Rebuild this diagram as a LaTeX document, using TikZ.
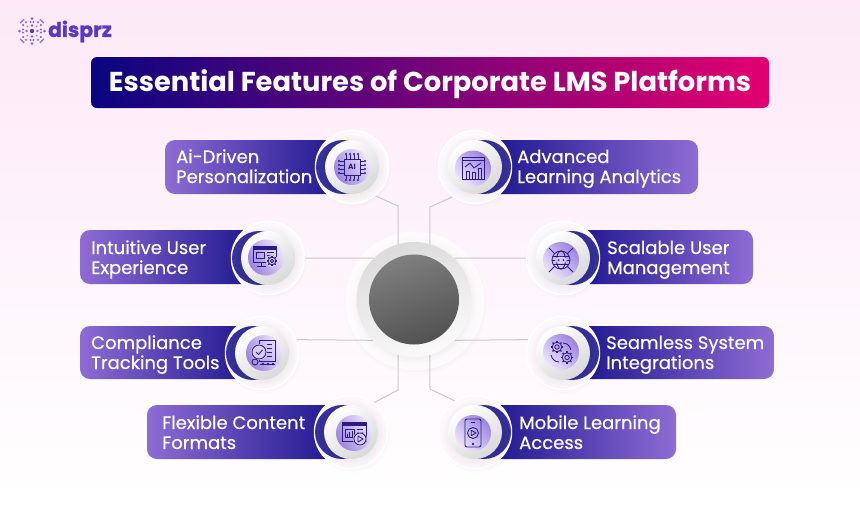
\documentclass[tikz,border=0pt]{standalone}
\usepackage{fontspec}
\setmainfont{Poppins}[FakeBold=0.35,BoldFont=Poppins Bold,BoldFeatures={FakeBold=0}]
\newfontfamily\logofont{Poppins Bold}[FakeBold=1.2]
\usetikzlibrary{calc}
\pgfdeclarelayer{bg}
\pgfdeclarelayer{lines}
\pgfsetlayers{bg,lines,main}
\definecolor{bgtop}{HTML}{FDE9F7}
\definecolor{bgmid}{HTML}{FEF8FD}
\definecolor{bgbot}{HTML}{FFFFFF}
\definecolor{navy}{HTML}{0A0580}
\definecolor{magenta}{HTML}{E4006F}
\definecolor{midtitle}{HTML}{640074}
\definecolor{pilldark}{HTML}{15108A}
\definecolor{pilllight}{HTML}{8E6CD4}
\definecolor{cres}{HTML}{37329C}
\definecolor{iconc}{HTML}{2A1C82}
\definecolor{lineg}{HTML}{CBC7CB}
\definecolor{logoc}{HTML}{5B36C9}
\definecolor{purpdark}{HTML}{9C82E0}
\definecolor{purplight}{HTML}{EDE7FB}
\definecolor{ringfill}{HTML}{FCF8FC}
\definecolor{iconbg}{HTML}{D8CCF4}
\tikzset{
  x=1pt,y=-1pt,
  lbl/.style={inner sep=0pt,anchor=west,align=left,text=white,font=\fontsize{18}{20}\selectfont},
  conn/.style={draw=lineg,line width=1pt},
  ringnode/.style={circle,inner sep=0pt,minimum size=73pt,fill=ringfill,draw=white,line width=1.5pt},
  maindisk/.style={circle,inner sep=0pt,minimum size=54pt,left color=white,right color=black!15,shading angle=35},
  ic/.style={draw=iconc,line width=0.85pt,line join=round},
}
\newcommand{\softshadow}[3]{%
  \foreach \rr in {#3,#3+1.5,#3+3,#3+4.5,#3+6,#3+7.5,#3+9}{
    \fill[black,opacity=.008] (#1,#2) circle ({\rr*1pt});
  }}
% name, cx, cy, dir, px, py, shading angle of the purple disc
\newcommand{\badge}[7]{%
  \softshadow{#2+2}{#3+4}{28}
  \node[ringnode] (#1) at (#2,#3) {};
  \fill[cres] ({#2+9*(#4)},#3) circle (27pt);
  \softshadow{#2+1}{#3+2}{25}
  \node[maindisk] (#1m) at (#2,#3) {};
  \node[circle,inner sep=0pt,minimum size=36pt,left color=purpdark,right color=purplight,shading angle=#7] (#1p) at (#5,#6) {};
}
\newcommand{\gearic}[3]{%
  \foreach \a in {0,45,...,315}{\draw[iconc,line width=1.3pt] ($(#1,#2)+(\a:#3*1pt)$) -- ($(#1,#2)+(\a:#3*1pt+1.4pt)$);}
  \draw[ic] (#1,#2) circle (#3*1pt);
  \draw[ic] (#1,#2) circle (#3*.45pt);
}
\begin{document}
\begin{tikzpicture}
\useasboundingbox (0,0) rectangle (860,504);
\begin{pgfonlayer}{bg}
\shade[top color=bgtop,middle color=bgmid,bottom color=bgbot] (0,0) rectangle (860,504);
\end{pgfonlayer}
% logo
\begin{scope}[shift={(32,31)}]
  \fill[logoc] (0,0) circle (2.2pt);
  \foreach \a in {0,90,180,270}{
    \fill[logoc!75!white,rotate=\a] (5.5,0) circle (1.3pt) (9,-1.5) circle (1.1pt) (9,1.5) circle (1.1pt) (12.5,0) circle (1.5pt);
  }
  \foreach \a in {45,135,225,315}{
    \fill[logoc!70!white,rotate=\a] (6.5,0) circle (1pt) (10.5,2) circle (1.2pt) (10.5,-2) circle (1.2pt) (14,2) circle (1.2pt) (14,-2) circle (1.2pt) (14,0) circle (1.1pt);
  }
\end{scope}
\node[inner sep=0pt,anchor=west,text=logoc,font=\fontsize{20.3}{24}\logofont] (logo) at (48,31.5) {disprz};
% title
\shade[left color=navy,middle color=midtitle,right color=magenta,rounded corners=6pt] (91,57) rectangle (769,108);
\node[inner sep=0pt,text=white,font=\fontsize{27.3}{28}\selectfont\bfseries] (title) at (430,84) {Essential Features of Corporate LMS Platforms};
% pills
\foreach \xa/\xb/\ya/\yb in {165/352/140/194,80/268/230/284,80/264/326/379,147/352/405/459}{
  \shade[left color=pilllight,right color=pilldark,rounded corners=10pt] (\xa,\ya) rectangle (\xb,\yb);
}
\foreach \xa/\xb/\ya/\yb in {475/698/140/194,563/753/230/284,563/774/326/379,475/676/405/459}{
  \shade[left color=pilldark,right color=pilllight,rounded corners=10pt] (\xa,\ya) rectangle (\xb,\yb);
}
% hub
\begin{pgfonlayer}{lines}
\softshadow{416}{304}{62}
\node[circle,inner sep=0pt,minimum size=139pt,fill=white,fill opacity=.75] (hubglow) at (415,301) {};
\end{pgfonlayer}
\softshadow{415}{302}{52}
\node[circle,inner sep=0pt,minimum size=115pt,left color=black!14,right color=black!2,shading angle=20] (hub) at (414,299.5) {};
\node[circle,inner sep=0pt,minimum size=90pt,left color=black!50,right color=black!68,shading angle=20] (hubcore) at (414,299.5) {};
% badges
\badge{bA}{352}{167}{-1}{352}{167}{120}
\badge{bB}{475}{167}{1}{473}{168.5}{-45}
\badge{bC}{268}{258}{-1}{266}{257.5}{120}
\badge{bD}{563}{258}{1}{561}{260}{-45}
\badge{bE}{262}{353}{-1}{264}{353}{120}
\badge{bF}{563}{353}{1}{561}{352}{-45}
\badge{bG}{351}{432}{-1}{354}{433}{120}
\badge{bH}{475}{432}{1}{473}{433}{-45}
% connectors
\coordinate (wA) at (398,206);
\coordinate (wB) at (430,207);
\coordinate (wG) at (398,390);
\coordinate (wH) at (430,389);
\begin{pgfonlayer}{lines}
  \draw[conn] (bA.-51.5) -- (wA) -- (hub.106);
  \draw[conn] (bB.-127.5) -- (wB) -- (hub.74);
  \draw[conn] (bC.east) -- (hub.134);
  \draw[conn] (hub.46) -- (bD.west);
  \draw[conn] (bE.21) -- (hub.225);
  \draw[conn] (hub.315) -- (bF.159);
  \draw[conn] (bG.52.6) -- (wG) -- (hub.254);
  \draw[conn] (bH.123.4) -- (wH) -- (hub.286);
\end{pgfonlayer}
% labels
\node[lbl] (tA) at (176,169) {\strut Ai-Driven\\Personalization\strut};
\node[lbl] (tB) at (517,169) {\strut Advanced\\Learning Analytics\strut};
\node[lbl] (tC) at (91,260) {\strut Intuitive User\\Experience\strut};
\node[lbl] (tD) at (607,260) {\strut Scalable User\\Management\strut};
\node[lbl] (tE) at (91,355) {\strut Compliance\\Tracking Tools\strut};
\node[lbl] (tF) at (606,355) {\strut Seamless System\\Integrations\strut};
\node[lbl] (tG) at (162,435) {\strut Flexible Content\\Formats\strut};
\node[lbl] (tH) at (519,435) {\strut Mobile Learning\\Access\strut};
% AI chip
\begin{scope}[shift={(352,167)}]
  \draw[ic] (-8,-8) rectangle (8,8);
  \node[inner sep=0pt,text=iconc,font=\fontsize{7.5}{8}\selectfont\bfseries] (iconAI) at (0,0) {AI};
  \foreach \t in {-6,-2,2,6}{
    \draw[ic] (\t,-8) -- (\t,-12) (\t,8) -- (\t,12) (-8,\t) -- (-12,\t) (8,\t) -- (12,\t);
    \fill[iconc] (\t,-13) circle (1.1pt) (\t,13) circle (1.1pt) (-13,\t) circle (1.1pt) (13,\t) circle (1.1pt);
  }
\end{scope}
% analytics
\begin{scope}[shift={(473,168)}]
  \draw[ic] (-11,-11) rectangle (11,11);
  \draw[ic] (-11,-7.5) -- (11,-7.5);
  \draw[ic] (-8,-1) -- (-3,-5) -- (1,0) -- (8,-5);
  \draw[ic] (-7,11) -- (-7,3) -- (-4,3) -- (-4,11) (-1,11) -- (-1,4) -- (2,4) -- (2,11) (5,11) -- (5,0) -- (8,0) -- (8,11);
\end{scope}
% intuitive UX
\begin{scope}[shift={(266,257)}]
  \draw[ic] (-13,-11) rectangle (10,5);
  \fill[iconc] (-13,-11) rectangle (10,-7.5);
  \draw[ic] (-10,-4.5) rectangle (-2,1);
  \draw[ic] (1,-4.5) -- (8,-4.5) (1,-1.5) -- (8,-1.5);
  \draw[ic] (-5,5) -- (-5,9) (-9,9.5) -- (0,9.5);
  \fill[iconbg] (6,4) circle (6pt);
  \gearic{6}{4}{3.8}
\end{scope}
% scalable
\begin{scope}[shift={(561,260)}]
  \draw[ic] (0,0) circle (9pt);
  \draw[ic] (0,0) ellipse (4.5pt and 9pt);
  \draw[ic] (-9,0) -- (9,0) (-8,-4) -- (8,-4) (-8,4) -- (8,4);
  \fill[iconbg] (0,0) ellipse (6pt and 3.2pt);
  \fill[iconc] (-2.5,0) circle (1pt) (2.5,0) circle (1pt);
  \draw[ic] (-12,-12) -- (-6.5,-6.5) (12,-12) -- (6.5,-6.5) (-12,12) -- (-6.5,6.5) (12,12) -- (6.5,6.5);
\end{scope}
% compliance
\begin{scope}[shift={(264,353)}]
  \draw[ic] (-5,-13) rectangle (11,8);
  \draw[ic] (3,-9) -- (8,-9) (3,-5) -- (8,-5) (3,-1) -- (8,-1) (3,3) -- (8,3);
  \fill[iconbg] (-5,-1) circle (8pt);
  \draw[ic] (-5,-1) circle (7pt);
  \draw[ic] (-8,-1) -- (-5.5,1.5) -- (-1.5,-3);
  \draw[ic] (-9,9) circle (3pt);
  \draw[ic] (-4,11) -- (11,11);
  \fill[iconc] (-1,11) circle (1.4pt) (4,11) circle (1.4pt) (9,11) circle (1.4pt);
\end{scope}
% flexible
\begin{scope}[shift={(354,433)}]
  \draw[ic] (-12,-11) rectangle (12,8);
  \fill[iconc] (-12,-11) rectangle (12,-7.5);
  \draw[ic] (-9,-4) rectangle (0,4);
  \draw[ic] (-7,4) -- (-7,1) (-4.5,4) -- (-4.5,-1) (-2,4) -- (-2,-2);
  \draw[ic] (3,-4) -- (9,-4) (3,-1) -- (9,-1);
  \fill[iconbg] (6,6) circle (7pt);
  \draw[ic] (6,6) circle (6pt);
  \draw[ic] (4,3) -- (9,6) -- (4,9) -- cycle;
\end{scope}
% seamless
\begin{scope}[shift={(561,352)}]
  \gearic{-4}{-5}{4.8}
  \gearic{6}{5.5}{4.8}
  \draw[ic] (2,-9) .. controls (6,-9) and (9,-6) .. (10,-2);
  \draw[ic] (-2,10) .. controls (-6,10) and (-9,7) .. (-10,3);
\end{scope}
% mobile
\begin{scope}[shift={(473,433)}]
  \draw[ic,rounded corners=2pt] (-8,-14) rectangle (8,14);
  \draw[ic] (-2,-11) -- (2,-11);
  \draw[ic] (0,0) circle (5.5pt);
  \draw[ic] (-1.8,-2.8) -- (3,0) -- (-1.8,2.8) -- cycle;
  \fill[iconc] (0,11) circle (1.3pt);
\end{scope}
\end{tikzpicture}
\end{document}
